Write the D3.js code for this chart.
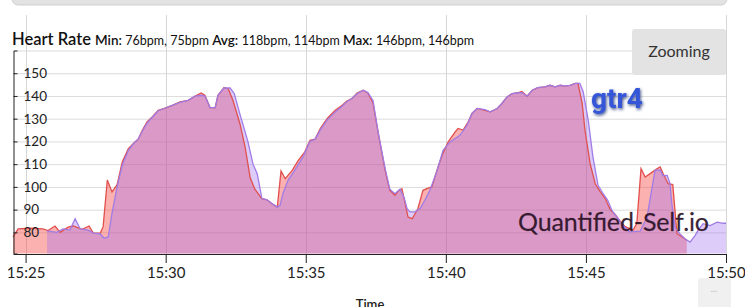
<!DOCTYPE html>
<html>
<head>
<meta charset="utf-8">
<script src="https://cdn.jsdelivr.net/npm/d3@7"></script>
<style>
  body { margin: 0; background: #fff; }
  svg { display: block; font-family: Lato, "Open Sans", sans-serif; }
</style>
</head>
<body>
<div id="chart"></div>
<script>
// first device (red) - times and bpm
const redTimes = ["15:24:33","15:24:44","15:25:10","15:25:37","15:25:48","15:26:03","15:26:14","15:26:31","15:26:42","15:27:01",
  "15:27:16","15:27:25","15:27:40","15:27:46","15:27:55","15:28:05","15:28:16","15:28:27","15:28:40","15:28:52",
  "15:29:01","15:29:10","15:29:20","15:29:31","15:29:44","15:29:59","15:30:14","15:30:31","15:30:48","15:31:03",
  "15:31:16","15:31:24","15:31:35","15:31:46","15:31:52","15:32:05","15:32:14","15:32:24","15:32:39","15:32:50",
  "15:33:01","15:33:11","15:33:26","15:33:37","15:33:48","15:33:59","15:34:07","15:34:16","15:34:31","15:34:44",
  "15:34:58","15:35:09","15:35:20","15:35:31","15:35:46","15:36:03","15:36:18","15:36:28","15:36:39","15:36:50",
  "15:37:03","15:37:13","15:37:24","15:37:35","15:37:50","15:38:00","15:38:11","15:38:18","15:38:26","15:38:33",
  "15:38:39","15:38:48","15:38:54","15:39:00","15:39:11","15:39:22","15:39:30","15:39:41","15:39:52","15:40:05",
  "15:40:20","15:40:26","15:40:37","15:40:48","15:40:56","15:41:07","15:41:24","15:41:35","15:41:50","15:42:00",
  "15:42:11","15:42:22","15:42:32","15:42:43","15:42:54","15:43:05","15:43:17","15:43:32","15:43:43","15:43:54",
  "15:44:05","15:44:15","15:44:26","15:44:37","15:44:43","15:44:52","15:44:58","15:45:09","15:45:20","15:45:30",
  "15:45:41","15:45:52","15:46:02","15:46:13","15:46:24","15:46:41","15:46:49","15:46:58","15:47:07","15:47:22",
  "15:47:32","15:47:39","15:47:45","15:47:56","15:48:06","15:48:15","15:48:26","15:48:36"];
const redBpm = [78,81.5,81.8,81.5,80.8,82.8,80,82.3,82.8,81.3,
  82.8,79.7,79.7,82.5,103,97.8,101,111,116.8,119.3,
  121,124.9,128.6,130.8,133.7,134.7,135.9,137.4,138.1,139.9,
  141.3,140.3,134.9,134.9,140.3,143.7,143.2,138.1,127.8,117.6,
  104,99,94.8,94.3,92.6,91.1,107,103.6,107.3,111.7,
  115.4,120.5,121,125.7,130.1,133.7,135.9,137.8,138.9,141.3,
  142.5,141.3,137,124,107.3,98.5,96.3,98.2,99.2,92.6,
  86.7,86,88.2,90.4,98.5,99.5,100,107.3,113.9,119.8,
  124.2,125.7,125,128.6,132.3,134.5,133.7,133,134.5,136.7,
  139.6,141,141.3,142,139.9,142.5,143.7,144,144.7,144,
  144.7,144.3,144.7,145.5,145.5,136.7,124.9,110.2,101.4,98,
  95,90,88,85,82.5,81,84,108,104.3,106.5,
  108,108.8,106,101.4,101,79.4,78,76.5];

// gtr4 (purple) - times and bpm
const gtrTimes = ["15:25:46","15:25:57","15:26:07","15:26:20","15:26:35","15:26:46","15:26:57","15:27:14","15:27:25","15:27:40",
  "15:27:48","15:27:57","15:28:05","15:28:16","15:28:27","15:28:40","15:28:52","15:29:01","15:29:10","15:29:20",
  "15:29:31","15:29:44","15:29:59","15:30:14","15:30:31","15:30:48","15:31:03","15:31:16","15:31:24","15:31:35",
  "15:31:46","15:31:52","15:32:05","15:32:18","15:32:27","15:32:39","15:32:56","15:33:07","15:33:16","15:33:26",
  "15:33:37","15:33:48","15:33:59","15:34:05","15:34:11","15:34:22","15:34:37","15:34:54","15:35:09","15:35:20",
  "15:35:31","15:35:46","15:36:03","15:36:18","15:36:28","15:36:39","15:36:50","15:37:03","15:37:13","15:37:24",
  "15:37:35","15:37:50","15:38:00","15:38:11","15:38:22","15:38:31","15:38:37","15:38:43","15:38:54","15:39:05",
  "15:39:15","15:39:26","15:39:41","15:39:54","15:40:09","15:40:30","15:40:45","15:40:56","15:41:07","15:41:24",
  "15:41:35","15:41:50","15:42:00","15:42:11","15:42:22","15:42:32","15:42:43","15:42:54","15:43:05","15:43:17",
  "15:43:32","15:43:43","15:43:54","15:44:05","15:44:15","15:44:26","15:44:37","15:44:47","15:44:54","15:45:05",
  "15:45:15","15:45:26","15:45:37","15:45:47","15:45:56","15:46:09","15:46:19","15:46:34","15:46:56","15:47:11",
  "15:47:17","15:47:28","15:47:39","15:47:45","15:47:54","15:48:00","15:48:04","15:48:11","15:48:21","15:48:32",
  "15:48:43","15:48:54","15:49:00","15:49:11","15:49:26","15:49:41","15:49:54","15:50:00"];
const gtrBpm = [80.5,80.3,80,81.5,81,86,81.5,81,79.7,79.3,
  77.4,78,88.4,100,109.5,116,119.3,121,124.5,128,
  130.5,133.5,134.7,135.9,137.2,138.1,139.9,140.3,140,134.9,
  134.9,140.3,143.5,143.5,141,132,120,110,105.8,95,
  94.3,92.6,91.1,91.9,97,102.9,107.5,113.2,120,121,
  125,129.5,133,135.5,137.5,139,141,142.5,141.5,138,
  124,108,99,97,99,95,90.4,89,89,90.5,
  94.1,98.5,107,116.1,119.8,122.7,127,132.3,134.5,134,
  133,134.5,136.7,139.6,141,141.3,141.5,139.9,142.5,143.7,
  144,144.7,144,144.7,144.3,144.7,145.5,145.5,142,129.3,
  113.2,100.7,97,94,89.5,86,83,80.2,80.5,86.7,
  94.1,107.3,107.5,105,105.1,101.5,92.6,82,79.4,77.2,
  75.7,78.7,80.9,83.8,83,84.5,84,84];

const xTickLabels = ["15:25", "15:30", "15:35", "15:40", "15:45", "15:50"];
const yTickValues = [80, 90, 100, 110, 120, 130, 140, 150];
const gridValues = [80, 90, 100, 110, 120, 130, 140, 150, 160];
const statMin = ["76bpm", "75bpm"];
const statAvg = ["118bpm", "114bpm"];
const statMax = ["146bpm", "146bpm"];

const width = 745, height = 307;
const parseTime = d3.timeParse("%H:%M:%S");

const svg = d3.select("#chart")
  .append("svg")
  .attr("width", width)
  .attr("height", height);

const x = d3.scaleTime()
  .domain([parseTime("15:24:33"), parseTime("15:50:00")])
  .range([13, 726]);

const y = d3.scaleLinear()
  .domain([70.7, 160])
  .range([253.5, 50.5]);

const redData = redTimes.map((t, i) => ({ t: parseTime(t), v: redBpm[i] }));
const gtrData = gtrTimes.map((t, i) => ({ t: parseTime(t), v: gtrBpm[i] }));

// top bar from the page
svg.append("rect")
  .attr("x", 12).attr("y", -10)
  .attr("width", 715).attr("height", 15)
  .attr("rx", 6)
  .attr("fill", "#e2e2e2")
  .attr("stroke", "#cfcfcf");

// grid
svg.append("g")
  .selectAll("line.h")
  .data(gridValues)
  .enter()
  .append("line")
  .attr("x1", 13).attr("x2", 726)
  .attr("y1", d => y(d) + 0.5).attr("y2", d => y(d) + 0.5)
  .attr("stroke", "#dcdcdc");

svg.append("g")
  .selectAll("line.v")
  .data(xTickLabels)
  .enter()
  .append("line")
  .attr("x1", d => Math.round(x(parseTime(d + ":00"))) + 0.5)
  .attr("x2", d => Math.round(x(parseTime(d + ":00"))) + 0.5)
  .attr("y1", 15).attr("y2", 254)
  .attr("stroke", "#d6d6d6");

// areas
const area = d3.area()
  .x(d => x(d.t))
  .y0(y(70.7))
  .y1(d => y(d.v));

const line = d3.line()
  .x(d => x(d.t))
  .y(d => y(d.v));

svg.append("path")
  .datum(redData)
  .attr("d", area)
  .attr("fill", "rgba(245,70,65,0.42)");

svg.append("path")
  .datum(gtrData)
  .attr("d", area)
  .attr("fill", "rgba(160,112,238,0.36)");

svg.append("path")
  .datum(redData)
  .attr("d", line)
  .attr("fill", "none")
  .attr("stroke", "#e0504e")
  .attr("stroke-width", 1.3);

svg.append("path")
  .datum(gtrData)
  .attr("d", line)
  .attr("fill", "none")
  .attr("stroke", "#a07ce6")
  .attr("stroke-width", 1.3);

// y axis, labels sit inside the plot
const yAxis = svg.append("g")
  .attr("transform", "translate(13.5,0)")
  .call(d3.axisRight(y).tickValues(yTickValues).tickSize(4).tickPadding(6).tickSizeOuter(4));
yAxis.select(".domain").attr("stroke", "#222");
yAxis.selectAll(".tick line").attr("stroke", "#222");
yAxis.selectAll("text")
  .attr("font-family", "Lato, sans-serif")
  .attr("font-size", 13.5)
  .attr("fill", "#222");

// x axis
const xAxis = svg.append("g")
  .attr("transform", "translate(0,254)")
  .call(d3.axisBottom(x)
    .tickValues(xTickLabels.map(d => parseTime(d + ":00")))
    .tickFormat(d3.timeFormat("%H:%M"))
    .tickSize(9).tickPadding(4).tickSizeOuter(0));
xAxis.select(".domain").attr("stroke", "#222");
xAxis.selectAll(".tick line").attr("stroke", "#222");
xAxis.selectAll("text")
  .attr("font-family", "Lato, sans-serif")
  .attr("font-size", 15)
  .attr("fill", "#222");

svg.append("text")
  .attr("x", 370).attr("y", 309)
  .attr("text-anchor", "middle")
  .attr("font-size", 13)
  .attr("font-weight", 600)
  .attr("fill", "#222")
  .text("Time");

// title with stats
const title = svg.append("text")
  .attr("x", 12).attr("y", 45)
  .attr("fill", "#111");
title.append("tspan").attr("font-size", 16.5).attr("font-weight", 600).text("Heart Rate ");
title.append("tspan").attr("font-size", 13.5).attr("font-weight", 600).text("Min: ");
title.append("tspan").attr("font-size", 12.5).text(statMin.join(", ") + " ");
title.append("tspan").attr("font-size", 13.5).attr("font-weight", 600).text("Avg: ");
title.append("tspan").attr("font-size", 12.5).text(statAvg.join(", ") + " ");
title.append("tspan").attr("font-size", 13.5).attr("font-weight", 600).text("Max: ");
title.append("tspan").attr("font-size", 12.5).text(statMax.join(", "));

// zooming button
svg.append("rect")
  .attr("x", 632).attr("y", 29)
  .attr("width", 94).attr("height", 46)
  .attr("rx", 3)
  .attr("fill", "#e3e3e3");
svg.append("text")
  .attr("x", 679).attr("y", 57)
  .attr("text-anchor", "middle")
  .attr("font-size", 16)
  .attr("fill", "#333")
  .text("Zooming");

// label + watermark
const defs = svg.append("defs");
const shadow = defs.append("filter").attr("id", "shadow").attr("x", "-20%").attr("y", "-20%").attr("width", "140%").attr("height", "140%");
shadow.append("feDropShadow").attr("dx", 1).attr("dy", 1.5).attr("stdDeviation", 1.5).attr("flood-color", "#1a2a70").attr("flood-opacity", 0.8);

svg.append("text")
  .attr("x", 591).attr("y", 108)
  .attr("font-family", "Roboto, sans-serif")
  .attr("font-size", 28)
  .attr("font-weight", 700)
  .attr("fill", "#3557d8")
  .attr("filter", "url(#shadow)")
  .text("gtr4");

svg.append("text")
  .attr("x", 518).attr("y", 231)
  .attr("font-family", "Lato, sans-serif")
  .attr("font-size", 25)
  .attr("textLength", 191)
  .attr("fill", "rgba(40,15,35,0.92)")
  .attr("stroke", "rgba(40,15,35,0.5)")
  .attr("stroke-width", 0.4)
  .text("Quantified-Self.io");

// small box bottom right
svg.append("rect")
  .attr("x", 698).attr("y", 278)
  .attr("width", 33).attr("height", 32)
  .attr("rx", 3)
  .attr("fill", "#f0f0f0");
svg.append("text")
  .attr("x", 714).attr("y", 292)
  .attr("text-anchor", "middle")
  .attr("font-size", 9)
  .attr("fill", "#bbb")
  .text("...");
</script>
</body>
</html>
